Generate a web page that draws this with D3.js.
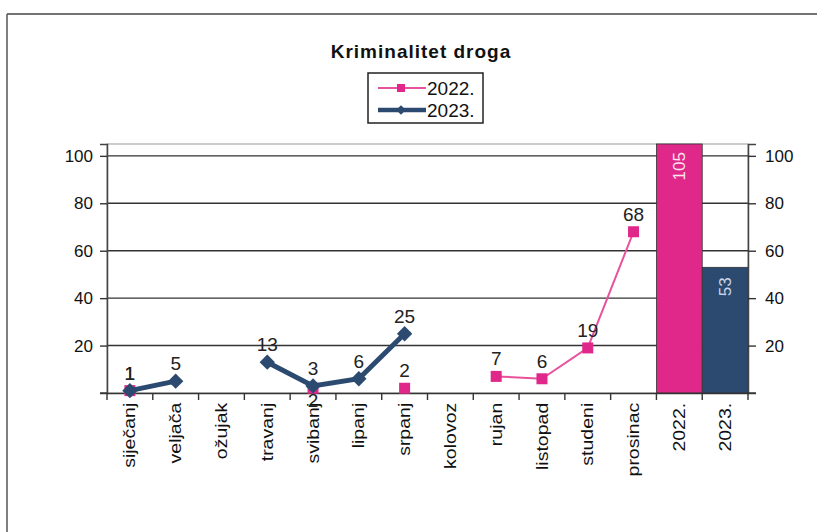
<!DOCTYPE html>
<html><head><meta charset="utf-8">
<script src="https://cdn.jsdelivr.net/npm/d3@7"></script>
<style>body{margin:0;background:#fff}svg{display:block}text{font-family:"Liberation Sans",Arial,sans-serif}</style>
</head><body><svg id="c" width="817" height="532"></svg>
<script>
const months = ["siječanj","veljača","ožujak","travanj","svibanj","lipanj","srpanj","kolovoz","rujan","listopad","studeni","prosinac"];
const totalCats = ["2022.","2023."];
const series2022 = [1,null,null,null,2,null,2,null,7,6,19,68];
const series2023 = [1,5,null,13,3,6,25,null,null,null,null,null];
const totals = [105,53];
const yTicks = [20,40,60,80,100];
const title = "Kriminalitet droga";
const seriesNames = ["2022.","2023."];

const pink = "#e0288a", pinkLine = "#e8519c", navy = "#2c4a70";
const svg = d3.select("#c");
const W = 817, H = 532;
// frame
svg.append("line").attr("x1",7).attr("x2",W).attr("y1",14).attr("y2",14).attr("stroke","#444").attr("stroke-width",1.5);
svg.append("line").attr("x1",7).attr("x2",7).attr("y1",14).attr("y2",H).attr("stroke","#555").attr("stroke-width",1.5);

const cats = months.concat(totalCats);
const x = d3.scaleBand().domain(cats).range([107,748]).padding(0);
const y = d3.scaleLinear().domain([0,105]).range([393,144]);

// plot frame
svg.append("rect").attr("x",107).attr("y",144).attr("width",641).attr("height",249).attr("fill","none").attr("stroke","#999").attr("stroke-width",1);
// gridlines
svg.append("g").selectAll("line").data(yTicks).join("line")
  .attr("x1",107).attr("x2",748).attr("y1",d=>y(d)).attr("y2",d=>y(d)).attr("stroke","#333").attr("stroke-width",1.4);

// bars
svg.append("g").selectAll("rect").data(totals).join("rect")
  .attr("x",(d,i)=>x(totalCats[i])).attr("width",x.bandwidth())
  .attr("y",d=>y(Math.min(d,105))).attr("height",d=>y(0)-y(Math.min(d,105)))
  .attr("fill",(d,i)=>i===0?pink:navy).attr("stroke","#333").attr("stroke-width",0.8);
svg.append("g").selectAll("text").data(totals).join("text")
  .attr("transform",(d,i)=>`translate(${x(totalCats[i])+x.bandwidth()/2+6},${y(Math.min(d,105))+(i===0?8:10)}) rotate(-90)`)
  .attr("text-anchor","end").attr("font-size",17)
  .attr("fill",(d,i)=>i===0?"#fbe3ef":"#c9d6e8").text(d=>d);

// axes
const axL = svg.append("g").attr("transform","translate(107,0)")
  .call(d3.axisLeft(y).tickValues(yTicks).tickSize(7).tickPadding(7));
const axR = svg.append("g").attr("transform","translate(748,0)")
  .call(d3.axisRight(y).tickValues(yTicks).tickSize(8).tickPadding(9));
[axL,axR].forEach(a=>{a.select(".domain").attr("stroke","#444").attr("stroke-width",1.5);
  a.selectAll(".tick line").attr("stroke","#333").attr("stroke-width",1.4);
  a.selectAll("text").attr("font-size",17).attr("fill","#111").attr("font-family","Liberation Sans, Arial, sans-serif");});
// zero tick marks
svg.append("line").attr("x1",100).attr("x2",107).attr("y1",y(0)).attr("y2",y(0)).attr("stroke","#333").attr("stroke-width",1.4);
svg.append("line").attr("x1",748).attr("x2",756).attr("y1",y(0)).attr("y2",y(0)).attr("stroke","#333").attr("stroke-width",1.4);

// x axis
const axB = svg.append("g").attr("transform",`translate(0,${y(0)})`)
  .call(d3.axisBottom(x).tickSize(0).tickPadding(0));
axB.select(".domain").attr("stroke","#333").attr("stroke-width",1.5);
axB.selectAll(".tick text").attr("font-size",16).attr("fill","#111")
  .attr("font-family","Liberation Sans, Arial, sans-serif")
  .attr("transform","rotate(-90) scale(1.22,1)").attr("text-anchor","end").attr("dy","0.35em").attr("x",-8).attr("y",0);
svg.append("g").selectAll("line").data(d3.range(cats.length+1)).join("line")
  .attr("x1",i=>107+i*x.step()).attr("x2",i=>107+i*x.step())
  .attr("y1",y(0)).attr("y2",y(0)+7).attr("stroke","#333").attr("stroke-width",1.4);

const xc = i => x(months[i]) + x.bandwidth()/2;
const line = d3.line().defined(d=>d.v!=null).x(d=>xc(d.i)).y(d=>y(d.v));
const d22 = series2022.map((v,i)=>({v,i})), d23 = series2023.map((v,i)=>({v,i}));

// 2022 series
svg.append("path").datum(d22).attr("d",line).attr("fill","none").attr("stroke",pinkLine).attr("stroke-width",2);
svg.append("g").selectAll("rect").data(d22.filter(d=>d.v!=null)).join("rect")
  .attr("x",d=>xc(d.i)-5.5).attr("y",d=>y(d.v)-5.5).attr("width",11).attr("height",11).attr("fill",pink);
// 2023 series
svg.append("path").datum(d23).attr("d",line).attr("fill","none").attr("stroke",navy).attr("stroke-width",5);
svg.append("g").selectAll("path").data(d23.filter(d=>d.v!=null)).join("path")
  .attr("d",d3.symbol(d3.symbolDiamond2,150)())
  .attr("transform",d=>`translate(${xc(d.i)},${y(d.v)})`).attr("fill",navy);

// labels
svg.append("g").selectAll("text").data(d22.filter(d=>d.v!=null)).join("text")
  .attr("x",d=>xc(d.i)).attr("text-anchor","middle").attr("font-size",19).attr("fill","#222")
  .attr("y",d=>{const o=series2023[d.i]; return (o!=null && o>d.v && o-d.v<5) ? y(d.v)+19 : y(d.v)-11;})
  .text(d=>d.v);
svg.append("g").selectAll("text").data(d23.filter(d=>d.v!=null)).join("text")
  .attr("x",d=>xc(d.i)).attr("y",d=>y(d.v)-11).attr("text-anchor","middle").attr("font-size",19).attr("fill","#222")
  .text(d=>d.v);

// title
svg.append("text").attr("x",421).attr("y",58).attr("text-anchor","middle")
  .attr("font-size",19).attr("font-weight","bold").attr("fill","#111").attr("letter-spacing","1").text(title);

// legend
const lg = svg.append("g");
lg.append("rect").attr("x",368).attr("y",73).attr("width",115).attr("height",50).attr("fill","#fff").attr("stroke","#222").attr("stroke-width",1.5);
seriesNames.forEach((n,i)=>{
  const yy = 88 + i*22, col = i===0?pink:navy;
  lg.append("line").attr("x1",378).attr("x2",426).attr("y1",yy).attr("y2",yy).attr("stroke",i===0?pinkLine:navy).attr("stroke-width",i===0?2:4.5);
  if(i===0) lg.append("rect").attr("x",397).attr("y",yy-4).attr("width",8).attr("height",8).attr("fill",col);
  else lg.append("path").attr("d",d3.symbol(d3.symbolDiamond2,60)()).attr("transform",`translate(401,${yy})`).attr("fill",col);
  lg.append("text").attr("x",427).attr("y",yy+7).attr("font-size",19).attr("fill","#111").text(n);
});
</script></body></html>
